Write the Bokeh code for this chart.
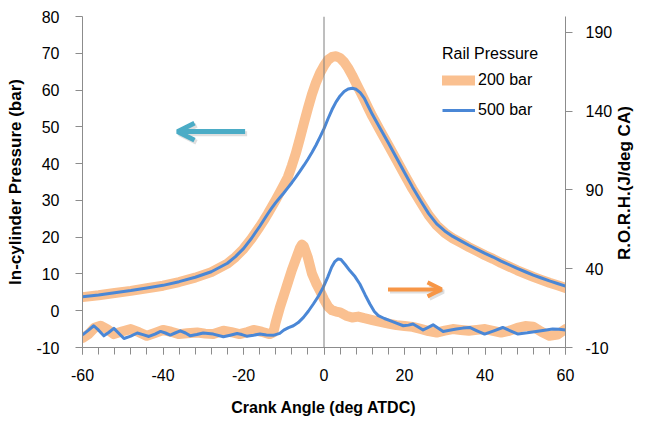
import math
from bokeh.plotting import figure
from bokeh.models import (Range1d, LinearAxis, FixedTicker, Span, Arrow,
                          OpenHead, Legend, LegendItem)
from bokeh.embed import file_html
from bokeh.resources import INLINE

# In-cylinder pressure (bar) against crank angle (deg ATDC)
PRESS_DEG = [-60, -56, -52, -48, -44, -40, -36, -32, -28, -24, -22, -20, -18, -16,
             -15, -14, -13, -12, -11, -10, -9, -8, -7, -6, -5, -4, -3, -2, -1, 0,
             1, 2, 3, 4, 5, 6, 7, 8, 9, 10, 11, 12, 14, 16, 18, 20, 22, 24, 26, 28,
             30, 32, 34, 36, 38, 40, 42, 44, 46, 48, 50, 52, 54, 56, 58, 60]
PRESS_200 = [3.7, 4.2, 4.8, 5.4, 6.1, 6.8, 7.8, 9.0, 10.5, 12.8, 14.6, 16.8, 19.6, 22.8,
             24.5, 26.3, 28.2, 30.1, 32.1, 34.2, 36.3, 39.4, 42.8, 46.8, 51.0, 55.0,
             58.8, 62.0, 64.6, 66.6, 68.2, 69.0, 69.2, 68.7, 67.6, 66.0, 64.0, 61.8,
             59.6, 57.4, 55.1, 52.9, 48.9, 45.0, 41.0, 37.0, 33.1, 29.5, 26.0, 23.2,
             21.2, 19.7, 18.5, 17.3, 16.2, 15.1, 14.1, 13.0, 12.0, 11.0, 10.1, 9.2,
             8.4, 7.6, 6.9, 6.2]
PRESS_500 = [3.8, 4.3, 4.9, 5.5, 6.2, 6.9, 7.9, 9.1, 10.6, 12.9, 14.7, 16.9, 19.7, 22.9,
             24.6, 26.3, 27.9, 29.4, 30.7, 32.0, 33.4, 34.8, 36.3, 37.9, 39.5, 41.2,
             43.0, 45.0, 47.2, 49.5, 52.2, 54.7, 56.8, 58.4, 59.6, 60.3, 60.5, 60.2,
             59.3, 57.8, 55.6, 53.4, 49.5, 45.6, 41.6, 37.6, 33.6, 29.9, 26.4, 23.6,
             21.7, 20.2, 19.0, 17.8, 16.7, 15.6, 14.6, 13.5, 12.5, 11.5, 10.6, 9.7,
             8.9, 8.1, 7.4, 6.7]

# Rate of heat release (J/deg CA)
RORH_200_DEG = [-60, -58.5, -57, -55.5, -54, -52.2, -50, -48, -46, -44, -42, -40, -38,
                -36, -34, -31.5, -29.5, -27.5, -25, -23, -21, -19, -17.5, -15.5, -13.5,
                -12.6, -12, -11, -10, -9, -8, -7, -6, -5.5, -5, -4, -3, -2, -1, 0, 1, 2,
                3, 4, 5.5, 7, 8.5, 10, 12, 14, 16, 18, 20, 22, 24, 26, 28, 30, 32, 34,
                36, 38, 40, 42, 44, 46, 48, 50, 52, 54, 56, 58, 60]
RORH_200 = [-4.0, -1.5, 2.5, 3.8, 1.8, -1.5, 0.3, 1.7, -0.3, -2.6, -0.8, 1.1, 0.0,
            -1.5, -1.0, -0.5, -1.2, -1.5, 0.6, -0.3, -1.5, -0.2, 1.1, 0.0, -1.5,
            -0.5, 6, 15, 23, 31, 39, 46, 53, 55.3, 54.2, 47, 37, 31, 26, 20.5, 16, 13.6,
            12.8, 12.3, 10.2, 9.0, 9.6, 8.6, 7.4, 6.3, 5.2, 4.2, 3.6, 3.1, 1.8, 0.4, -0.5,
            0.7, 1.7, 1.1, 0.6, 1.2, 1.7, 0.6, -0.5, 0.6, 2.4, 3.6, 3.2, 0.0, -2.6, -1.8, 1.7]

RORH_500_DEG = [-60, -58.5, -57.2, -56, -54.7, -53.5, -52.2, -51, -49.7, -48, -46.4, -45,
                -43.5, -42, -40.6, -39.4, -38.2, -37, -35.7, -34.4, -33.2, -31.6, -30,
                -27.5, -25, -23.3, -21.6, -20.4, -19.2, -17.5, -15.9, -14.3, -12.6, -11,
                -10, -8.8, -7.6, -6.4, -5.1, -3.9, -2.65, -1.4, -0.2, 0.9, 1.9, 2.7, 3.5,
                4.2, 5.3, 6.4, 7.7, 8.9, 10.2, 11.4, 12.5, 13.5, 15, 16.4, 18, 19.7, 21,
                22.1, 23.4, 24.6, 25.9, 27.1, 28.4, 29.6, 31.2, 32.9, 34.5, 36.2, 38,
                39.9, 42.2, 44.4, 46.3, 48.2, 50.5, 52.7, 54.8, 56.8, 58.4, 60]
RORH_500 = [-2.0, 1.0, 3.8, 1.0, -2.6, -0.5, 2.1, -1.0, -4.3, -2.8, -0.8, -1.8,
            -3.0, -1.5, 0.2, -0.8, -2.1, -0.8, 0.6, -0.8, -2.6, -1.8, -0.8,
            -1.5, -3.2, -2.2, -1.1, -1.8, -2.8, -2.2, -1.5, -2.0, -2.3, -1.0,
            1.0, 2.6, 3.8, 5.8, 9.1, 13.0, 17.6, 22.5, 28.1, 34.5, 40.9, 44.5, 46.2,
            45.8, 42.5, 38.8, 35.0, 30.3, 23.5, 17.6, 12.8, 10.2, 8.4, 7.0, 5.4, 3.8, 4.2,
            4.9, 3.0, 1.1, 2.8, 4.4, 2.2, 0.2, 0.9, 1.7, 2.3, 2.7, 0.6,
            -1.5, 0.6, 2.7, 0.6, -1.5, -0.7, 0.2, 1.0, 1.7, 1.6, 1.1]

X_TICKS = [-60, -40, -20, 0, 20, 40, 60]
X_MINOR = list(range(-60, 61, 4))
P_TICKS = list(range(-10, 81, 10))
R_TICKS = [-10, 40, 90, 140, 190]
R_TITLE = "R.O.R.H.(J/deg CA)"

ORANGE = "#FAC090"
BLUE = "#4A87D6"
AXIS_GREY = "#8C8C8C"
FONT = "Liberation Sans"

p = figure(width=646, height=423, output_backend="svg", toolbar_location=None,
           x_range=Range1d(-60, 60), y_range=Range1d(-10, 80),
           min_border_left=82, min_border_right=79, min_border_top=16,
           min_border_bottom=76)
p.extra_y_ranges = {"rorh": Range1d(-10, 200), "frac": Range1d(0, 1)}
p.grid.visible = False
p.outline_line_color = None
p.background_fill_color = "white"
p.border_fill_color = "white"


def style_axis(ax, ticks, label, label_size):
    ax.axis_line_color = AXIS_GREY
    ax.major_tick_line_color = AXIS_GREY
    ax.minor_tick_line_color = AXIS_GREY
    ax.major_tick_in = 0
    ax.major_tick_out = 7
    ax.minor_tick_in = 0
    ax.major_label_text_font = FONT
    ax.major_label_text_font_size = "16px"
    ax.major_label_text_color = "black"
    ax.major_label_standoff = 16
    # plain hyphen for negative tick values
    ax.major_label_overrides = {t: str(t) for t in ticks}
    ax.axis_label = label
    ax.axis_label_text_font = FONT
    ax.axis_label_text_font_size = label_size
    ax.axis_label_text_font_style = "bold"
    ax.axis_label_text_color = "black"


xa = p.xaxis[0]
xa.ticker = FixedTicker(ticks=X_TICKS, minor_ticks=X_MINOR)
style_axis(xa, X_TICKS, "Crank Angle (deg ATDC)", "16px")
xa.minor_tick_out = 7
xa.major_label_standoff = 14
xa.axis_label_standoff = 15

ya = p.yaxis[0]
ya.ticker = FixedTicker(ticks=P_TICKS, minor_ticks=[])
style_axis(ya, P_TICKS, "In-cylinder Pressure (bar)", "17px")
ya.minor_tick_out = 0
ya.major_label_standoff = 16
ya.axis_label_standoff = 8

ra = LinearAxis(y_range_name="rorh", ticker=FixedTicker(ticks=R_TICKS, minor_ticks=[]))
style_axis(ra, R_TICKS, None, "17px")
ra.minor_tick_out = 0
ra.major_label_standoff = 13
p.add_layout(ra, "right")

# Title of the right-hand axis, written bottom to top: a bare axis whose one
# label starts below the middle of the frame so that the text is centred on it.
title_start = 0.264
ta = LinearAxis(y_range_name="frac",
                ticker=FixedTicker(ticks=[title_start], minor_ticks=[]),
                major_label_overrides={title_start: R_TITLE},
                major_label_orientation=math.pi / 2)
ta.axis_line_color = None
ta.major_tick_line_color = None
ta.minor_tick_line_color = None
ta.major_tick_in = 0
ta.major_tick_out = 0
ta.minor_tick_in = 0
ta.minor_tick_out = 0
ta.major_label_standoff = 9
ta.major_label_text_font = FONT
ta.major_label_text_font_size = "17px"
ta.major_label_text_font_style = "bold"
ta.major_label_text_color = "black"
p.add_layout(ta, "right")

# vertical reference line at TDC
p.add_layout(Span(location=0, dimension="height", line_color="#7F7F7F", line_width=1))

r200 = p.line(PRESS_DEG, PRESS_200, line_color=ORANGE, line_width=10,
              line_cap="round", line_join="round")
p.line(RORH_200_DEG, RORH_200, y_range_name="rorh", line_color=ORANGE, line_width=10,
       line_cap="round", line_join="round")
r500 = p.line(PRESS_DEG, PRESS_500, line_color=BLUE, line_width=3,
              line_join="round")
p.line(RORH_500_DEG, RORH_500, y_range_name="rorh", line_color=BLUE, line_width=3,
       line_join="round")


# arrows pointing each pair of curves to its axis
def add_arrow(x0, x1, y, color, width, size):
    p.add_layout(Arrow(x_start=x0 + 0.5, x_end=x1 + 0.5, y_start=y - 0.6, y_end=y - 0.6,
                       line_color="#7F7F7F", line_alpha=0.25, line_width=width,
                       end=OpenHead(size=size, line_color="#7F7F7F", line_alpha=0.25,
                                    line_width=width)))
    p.add_layout(Arrow(x_start=x0, x_end=x1, y_start=y, y_end=y,
                       line_color=color, line_width=width,
                       end=OpenHead(size=size, line_color=color, line_width=width)))


add_arrow(-19.6, -36.4, 48.7, "#4BACC6", 5, 17)
add_arrow(15.9, 29.2, 5.8, "#F79646", 4, 14)

legend = Legend(items=[LegendItem(label="200 bar", renderers=[r200]),
                       LegendItem(label="500 bar", renderers=[r500])],
                location=(360, 227), title="Rail Pressure",
                title_text_font=FONT, title_text_font_size="16px",
                title_text_font_style="normal", title_text_color="black",
                title_standoff=7,
                label_text_font=FONT, label_text_font_size="16px",
                label_text_color="black", label_standoff=3,
                glyph_width=33, glyph_height=20, label_height=20,
                spacing=10, padding=0, margin=0,
                border_line_color=None, background_fill_alpha=0)
p.add_layout(legend, "center")

open("out.html", "w").write(file_html(p, INLINE))
